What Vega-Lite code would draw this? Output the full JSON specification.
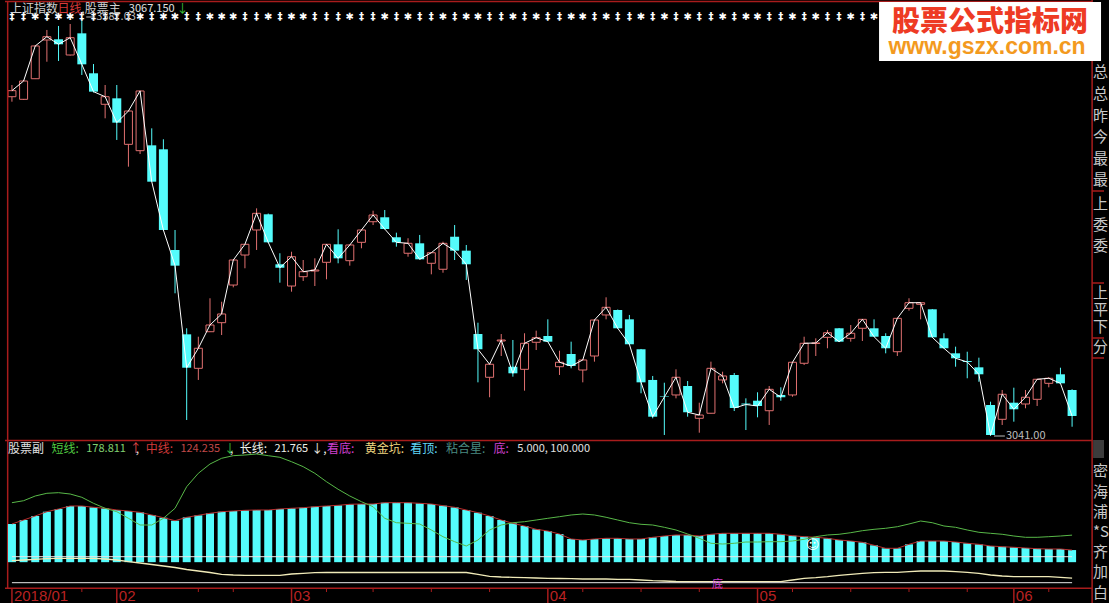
{
"$schema": "https://vega.github.io/schema/vega-lite/v6.json",
"width": 1109, "height": 603,
"autosize": {"type": "fit", "contains": "padding"},
"padding": 0,
"background": "#000000",
"config": {"view": {"stroke": null}, "axis": {"disable": true}},
"data": {"values": [{}]},
"datasets": {
"k": [
{"i":0,"o":3484.2,"h":3499.5,"l":3477.7,"c":3492.1,"s":297.3,"m":219.5,"g":85.4,"a":"‡"},
{"i":1,"o":3480.8,"h":3506.0,"l":3479.9,"c":3504.7,"s":304.6,"m":234.1,"g":87.9,"a":"‡"},
{"i":2,"o":3507.7,"h":3551.8,"l":3507.3,"c":3550.5,"s":321.8,"m":248.7,"g":90.5,"a":"✱"},
{"i":3,"o":3558.3,"h":3571.4,"l":3529.9,"c":3562.6,"s":331.7,"m":264.4,"g":92.7,"a":"‡"},
{"i":4,"o":3559.2,"h":3576.6,"l":3530.9,"c":3552.7,"s":333.9,"m":274.3,"g":94.2,"a":"✱"},
{"i":5,"o":3538.7,"h":3579.2,"l":3538.0,"c":3561.3,"s":329.1,"m":285.3,"g":94.2,"a":"✱"},
{"i":6,"o":3567.0,"h":3587.03,"l":3512.6,"c":3526.5,"s":317.0,"m":285.3,"g":94.2,"a":"‡"},
{"i":7,"o":3514.8,"h":3526.9,"l":3489.7,"c":3490.8,"s":295.1,"m":280.5,"g":94.2,"a":"‡"},
{"i":8,"o":3474.3,"h":3499.5,"l":3456.0,"c":3484.2,"s":276.9,"m":276.9,"g":91.6,"a":"‡"},
{"i":9,"o":3482.1,"h":3499.5,"l":3427.7,"c":3450.3,"s":264.4,"m":270.6,"g":87.9,"a":"‡"},
{"i":10,"o":3422.0,"h":3466.2,"l":3392.8,"c":3465.5,"s":240.3,"m":267.0,"g":81.7,"a":"‡"},
{"i":11,"o":3413.7,"h":3492.3,"l":3409.4,"c":3491.7,"s":215.8,"m":262.2,"g":77.0,"a":"✱"},
{"i":12,"o":3420.7,"h":3442.9,"l":3372.8,"c":3373.2,"s":215.8,"m":252.4,"g":71.5,"a":"‡"},
{"i":13,"o":3415.5,"h":3428.6,"l":3309.4,"c":3310.1,"s":240.3,"m":242.5,"g":66.0,"a":"✱"},
{"i":14,"o":3284.0,"h":3310.1,"l":3227.4,"c":3263.5,"s":276.9,"m":231.5,"g":60.5,"a":"✱"},
{"i":15,"o":3173.8,"h":3181.7,"l":3061.9,"c":3130.2,"s":355.8,"m":244.0,"g":53.2,"a":"‡"},
{"i":16,"o":3129.4,"h":3170.7,"l":3114.2,"c":3155.6,"s":404.7,"m":251.3,"g":47.8,"a":"‡"},
{"i":17,"o":3177.2,"h":3220.9,"l":3176.8,"c":3186.0,"s":438.7,"m":258.6,"g":42.3,"a":"✱"},
{"i":18,"o":3189.0,"h":3216.4,"l":3172.9,"c":3200.4,"s":459.6,"m":264.4,"g":35.7,"a":"✱"},
{"i":19,"o":3238.2,"h":3271.5,"l":3235.2,"c":3270.9,"s":469.1,"m":267.0,"g":33.1,"a":"✱"},
{"i":20,"o":3277.4,"h":3291.8,"l":3260.1,"c":3291.4,"s":471.6,"m":269.5,"g":32.0,"a":"‡"},
{"i":21,"o":3310.1,"h":3338.4,"l":3284.0,"c":3331.9,"s":475.3,"m":270.6,"g":32.0,"a":"‡"},
{"i":22,"o":3330.6,"h":3331.6,"l":3293.1,"c":3294.0,"s":469.1,"m":270.6,"g":32.0,"a":"✱"},
{"i":23,"o":3265.3,"h":3279.7,"l":3241.3,"c":3260.8,"s":463.2,"m":274.3,"g":32.0,"a":"‡"},
{"i":24,"o":3236.9,"h":3281.7,"l":3229.5,"c":3275.2,"s":447.1,"m":276.9,"g":36.8,"a":"✱"},
{"i":25,"o":3249.1,"h":3270.9,"l":3243.5,"c":3255.6,"s":428.9,"m":279.0,"g":39.4,"a":"✱"},
{"i":26,"o":3256.5,"h":3273.1,"l":3236.9,"c":3257.8,"s":404.7,"m":282.7,"g":41.5,"a":"‡"},
{"i":27,"o":3267.9,"h":3291.8,"l":3245.7,"c":3291.4,"s":374.0,"m":285.3,"g":42.3,"a":"‡"},
{"i":28,"o":3291.4,"h":3311.0,"l":3266.6,"c":3273.1,"s":346.3,"m":287.8,"g":42.3,"a":"‡"},
{"i":29,"o":3270.0,"h":3291.1,"l":3263.5,"c":3290.5,"s":321.8,"m":291.5,"g":42.3,"a":"✱"},
{"i":30,"o":3294.0,"h":3310.7,"l":3286.2,"c":3310.1,"s":301.0,"m":292.6,"g":42.3,"a":"‡"},
{"i":31,"o":3320.9,"h":3335.3,"l":3316.6,"c":3329.7,"s":282.7,"m":292.6,"g":42.3,"a":"‡"},
{"i":32,"o":3326.7,"h":3336.2,"l":3310.7,"c":3311.4,"s":240.3,"m":297.3,"g":42.3,"a":"✱"},
{"i":33,"o":3300.6,"h":3306.6,"l":3288.3,"c":3294.0,"s":224.2,"m":297.3,"g":42.3,"a":"‡"},
{"i":34,"o":3279.7,"h":3299.3,"l":3275.2,"c":3292.7,"s":222.0,"m":297.3,"g":42.3,"a":"✱"},
{"i":35,"o":3292.7,"h":3303.6,"l":3271.5,"c":3271.8,"s":219.5,"m":295.1,"g":42.3,"a":"‡"},
{"i":36,"o":3266.6,"h":3280.7,"l":3252.2,"c":3280.4,"s":197.6,"m":292.6,"g":42.3,"a":"‡"},
{"i":37,"o":3258.8,"h":3294.8,"l":3254.3,"c":3292.7,"s":173.1,"m":286.4,"g":42.3,"a":"✱"},
{"i":38,"o":3301.3,"h":3316.6,"l":3270.9,"c":3283.1,"s":154.8,"m":280.5,"g":42.3,"a":"‡"},
{"i":39,"o":3283.1,"h":3290.5,"l":3244.8,"c":3265.3,"s":139.1,"m":270.6,"g":42.3,"a":"✱"},
{"i":40,"o":3174.2,"h":3189.0,"l":3111.1,"c":3154.3,"s":161.0,"m":260.8,"g":35.7,"a":"✱"},
{"i":41,"o":3117.7,"h":3135.0,"l":3091.6,"c":3134.7,"s":197.6,"m":248.7,"g":28.4,"a":"‡"},
{"i":42,"o":3165.1,"h":3174.2,"l":3145.5,"c":3166.4,"s":215.8,"m":234.1,"g":25.8,"a":"‡"},
{"i":43,"o":3131.5,"h":3166.4,"l":3118.5,"c":3122.9,"s":224.2,"m":222.0,"g":24.7,"a":"✱"},
{"i":44,"o":3128.1,"h":3175.2,"l":3100.2,"c":3162.1,"s":227.9,"m":212.2,"g":23.3,"a":"‡"},
{"i":45,"o":3163.4,"h":3178.6,"l":3153.3,"c":3169.4,"s":234.1,"m":200.1,"g":22.2,"a":"✱"},
{"i":46,"o":3171.6,"h":3193.4,"l":3163.8,"c":3164.2,"s":240.3,"m":193.9,"g":21.1,"a":"‡"},
{"i":47,"o":3131.5,"h":3152.4,"l":3120.7,"c":3137.3,"s":246.2,"m":183.0,"g":20.4,"a":"‡"},
{"i":48,"o":3148.1,"h":3164.2,"l":3129.4,"c":3132.4,"s":252.4,"m":164.7,"g":19.6,"a":"✱"},
{"i":49,"o":3127.2,"h":3140.9,"l":3111.1,"c":3140.3,"s":256.0,"m":161.0,"g":18.5,"a":"✱"},
{"i":50,"o":3145.5,"h":3193.2,"l":3138.1,"c":3192.5,"s":252.4,"m":164.7,"g":18.5,"a":"‡"},
{"i":51,"o":3199.1,"h":3222.2,"l":3193.4,"c":3209.1,"s":244.0,"m":167.2,"g":18.5,"a":"✱"},
{"i":52,"o":3205.6,"h":3206.2,"l":3180.8,"c":3181.7,"s":234.1,"m":167.2,"g":17.4,"a":"‡"},
{"i":53,"o":3193.4,"h":3199.1,"l":3159.9,"c":3160.8,"s":224.2,"m":164.7,"g":17.4,"a":"‡"},
{"i":54,"o":3154.3,"h":3154.7,"l":3096.8,"c":3111.1,"s":218.4,"m":164.7,"g":14.9,"a":"✱"},
{"i":55,"o":3114.2,"h":3119.4,"l":3064.1,"c":3066.2,"s":215.8,"m":170.9,"g":12.3,"a":"‡"},
{"i":56,"o":3092.6,"h":3110.6,"l":3042.3,"c":3091.9,"s":207.4,"m":175.6,"g":11.2,"a":"✱"},
{"i":57,"o":3094.6,"h":3128.1,"l":3090.2,"c":3117.7,"s":197.6,"m":179.3,"g":9.4,"a":"‡"},
{"i":58,"o":3106.3,"h":3112.8,"l":3066.2,"c":3072.0,"s":183.0,"m":179.3,"g":8.7,"a":"✱"},
{"i":59,"o":3064.1,"h":3084.5,"l":3045.3,"c":3068.4,"s":167.2,"m":175.6,"g":8.7,"a":"‡"},
{"i":60,"o":3070.7,"h":3138.1,"l":3070.4,"c":3129.4,"s":149.0,"m":181.9,"g":8.7,"a":"‡"},
{"i":61,"o":3114.2,"h":3125.0,"l":3109.8,"c":3119.4,"s":146.4,"m":185.5,"g":8.7,"a":"✱"},
{"i":62,"o":3120.7,"h":3123.3,"l":3073.6,"c":3077.6,"s":149.0,"m":185.5,"g":8.7,"a":"‡"},
{"i":63,"o":3083.4,"h":3090.2,"l":3048.8,"c":3082.1,"s":153.7,"m":185.5,"g":8.7,"a":"✱"},
{"i":64,"o":3087.1,"h":3098.1,"l":3065.4,"c":3080.2,"s":153.7,"m":185.5,"g":8.7,"a":"✱"},
{"i":65,"o":3074.0,"h":3106.3,"l":3055.4,"c":3102.0,"s":154.8,"m":185.5,"g":8.7,"a":"‡"},
{"i":66,"o":3094.6,"h":3104.6,"l":3087.1,"c":3091.6,"s":154.8,"m":181.9,"g":8.7,"a":"‡"},
{"i":67,"o":3094.6,"h":3137.6,"l":3092.3,"c":3137.3,"s":157.4,"m":176.7,"g":14.9,"a":"✱"},
{"i":68,"o":3136.0,"h":3170.7,"l":3133.7,"c":3162.1,"s":163.6,"m":173.1,"g":21.1,"a":"‡"},
{"i":69,"o":3161.8,"h":3168.6,"l":3145.5,"c":3162.5,"s":173.1,"m":170.9,"g":23.3,"a":"✱"},
{"i":70,"o":3169.9,"h":3179.5,"l":3155.6,"c":3175.9,"s":179.3,"m":167.2,"g":26.9,"a":"‡"},
{"i":71,"o":3181.7,"h":3182.1,"l":3163.8,"c":3164.2,"s":181.9,"m":161.0,"g":32.0,"a":"‡"},
{"i":72,"o":3168.6,"h":3186.0,"l":3164.2,"c":3175.2,"s":187.7,"m":157.4,"g":35.7,"a":"✱"},
{"i":73,"o":3181.7,"h":3193.8,"l":3165.1,"c":3193.4,"s":195.0,"m":152.6,"g":39.4,"a":"‡"},
{"i":74,"o":3181.7,"h":3193.4,"l":3170.3,"c":3170.7,"s":200.1,"m":141.7,"g":41.5,"a":"✱"},
{"i":75,"o":3171.6,"h":3175.2,"l":3149.0,"c":3155.6,"s":203.8,"m":130.7,"g":43.0,"a":"‡"},
{"i":76,"o":3151.1,"h":3195.1,"l":3145.5,"c":3194.7,"s":209.6,"m":130.7,"g":43.0,"a":"‡"},
{"i":77,"o":3207.8,"h":3220.9,"l":3204.7,"c":3215.1,"s":219.5,"m":145.3,"g":45.2,"a":"✱"},
{"i":78,"o":3213.0,"h":3215.4,"l":3193.4,"c":3215.1,"s":230.4,"m":157.4,"g":47.8,"a":"‡"},
{"i":79,"o":3206.5,"h":3206.9,"l":3169.6,"c":3169.9,"s":224.2,"m":157.4,"g":47.8,"a":"✱"},
{"i":80,"o":3168.6,"h":3175.2,"l":3155.3,"c":3155.6,"s":212.2,"m":157.4,"g":47.8,"a":"‡"},
{"i":81,"o":3149.0,"h":3157.7,"l":3131.5,"c":3142.5,"s":207.4,"m":153.7,"g":45.2,"a":"✱"},
{"i":82,"o":3139.0,"h":3151.1,"l":3116.4,"c":3137.7,"s":197.6,"m":149.0,"g":43.0,"a":"‡"},
{"i":83,"o":3130.7,"h":3143.3,"l":3111.9,"c":3121.6,"s":189.2,"m":145.3,"g":39.4,"a":"‡"},
{"i":84,"o":3081.5,"h":3085.8,"l":3041.0,"c":3042.3,"s":185.5,"m":139.1,"g":33.1,"a":"✱"},
{"i":85,"o":3062.8,"h":3101.1,"l":3055.4,"c":3095.5,"s":181.9,"m":136.5,"g":29.5,"a":"‡"},
{"i":86,"o":3084.5,"h":3104.1,"l":3059.7,"c":3075.9,"s":175.6,"m":134.4,"g":26.9,"a":"✱"},
{"i":87,"o":3082.8,"h":3101.1,"l":3077.2,"c":3091.6,"s":170.9,"m":131.8,"g":26.9,"a":"‡"},
{"i":88,"o":3088.9,"h":3115.5,"l":3080.2,"c":3115.1,"s":170.9,"m":129.2,"g":26.9,"a":"✱"},
{"i":89,"o":3109.8,"h":3117.7,"l":3104.6,"c":3116.4,"s":173.1,"m":128.1,"g":26.9,"a":"‡"},
{"i":90,"o":3121.6,"h":3130.2,"l":3109.5,"c":3109.8,"s":175.6,"m":128.1,"g":24.7,"a":"‡"},
{"i":91,"o":3101.1,"h":3102.0,"l":3053.1,"c":3067.15,"s":178.811,"m":124.235,"g":21.765,"a":"✱"}
],
"mo": [{"i":0,"lab":"2018/01"},{"i":9,"lab":"02"},{"i":24,"lab":"03"},{"i":46,"lab":"04"},{"i":64,"lab":"05"},{"i":86,"lab":"06"}],
"wk": [{"i":6},{"i":16},{"i":19},{"i":27},{"i":31},{"i":36},{"i":41},{"i":49},{"i":54},{"i":59},{"i":67},{"i":72},{"i":77},{"i":82},{"i":89}]
},
"layer": [
{"layer": [
 {"data":{"name":"k"},"transform":[{"filter":"datum.c>=datum.o"}],"mark":{"type":"rule","color":"#e07070","strokeWidth":1,"clip":true},"encoding":{"x":{"field":"i","type":"quantitative","scale":{"domain":[-0.5954,93.739],"nice":false}},"y":{"field":"h","type":"quantitative","scale":{"domain":[2822.84,3610.54],"nice":false}},"y2":{"field":"l"}}},
 {"data":{"name":"k"},"transform":[{"filter":"datum.c<datum.o"}],"mark":{"type":"rule","color":"#54fcfc","strokeWidth":1,"clip":true},"encoding":{"x":{"field":"i","type":"quantitative","scale":{"domain":[-0.5954,93.739],"nice":false}},"y":{"field":"h","type":"quantitative","scale":{"domain":[2822.84,3610.54],"nice":false}},"y2":{"field":"l"}}},
 {"data":{"name":"k"},"transform":[{"filter":"datum.c<datum.o"}],"mark":{"type":"bar","color":"#54fcfc","size":9,"clip":true},"encoding":{"x":{"field":"i","type":"quantitative","scale":{"domain":[-0.5954,93.739],"nice":false}},"y":{"field":"o","type":"quantitative","scale":{"domain":[2822.84,3610.54],"nice":false}},"y2":{"field":"c"}}},
 {"data":{"name":"k"},"transform":[{"filter":"datum.c>=datum.o"}],"mark":{"type":"bar","fill":"#000000","stroke":"#e07070","strokeWidth":1,"size":8,"clip":true},"encoding":{"x":{"field":"i","type":"quantitative","scale":{"domain":[-0.5954,93.739],"nice":false}},"y":{"field":"o","type":"quantitative","scale":{"domain":[2822.84,3610.54],"nice":false}},"y2":{"field":"c"}}},
 {"data":{"name":"k"},"mark":{"type":"line","color":"#ffffff","strokeWidth":1,"clip":true},"encoding":{"x":{"field":"i","type":"quantitative","scale":{"domain":[-0.5954,93.739],"nice":false}},"y":{"field":"c","type":"quantitative","scale":{"domain":[2822.84,3610.54],"nice":false}}}},
 {"data":{"name":"k"},"mark":{"type":"text","color":"#ffffff","font":"DejaVu Sans","fontSize":10,"fontWeight":"bold","align":"center","baseline":"middle","clip":true},"encoding":{"x":{"field":"i","type":"quantitative","scale":{"domain":[-0.5954,93.739],"nice":false}},"y":{"datum":3588.3,"type":"quantitative","scale":{"domain":[2822.84,3610.54],"nice":false}},"text":{"field":"a"}}},
 {"mark":{"type":"rule","color":"#bdbdbd","clip":true},"encoding":{"x":{"datum":6.38,"type":"quantitative"},"x2":{"datum":7.145},"y":{"datum":3588.33,"type":"quantitative"}}},
 {"mark":{"type":"text","text":"3587.03","color":"#bdbdbd","font":"Noto Sans CJK SC","fontSize":11,"align":"left","baseline":"middle","clip":true},"encoding":{"x":{"datum":7.23,"type":"quantitative"},"y":{"datum":3588.33,"type":"quantitative"}}},
 {"mark":{"type":"rule","color":"#bdbdbd","clip":true},"encoding":{"x":{"datum":84.297,"type":"quantitative"},"x2":{"datum":85.233},"y":{"datum":3040.99,"type":"quantitative"}}},
 {"mark":{"type":"text","text":"3041.00","color":"#bdbdbd","font":"Noto Sans CJK SC","fontSize":11,"align":"left","baseline":"middle","clip":true},"encoding":{"x":{"datum":85.318,"type":"quantitative"},"y":{"datum":3040.99,"type":"quantitative"}}},
 {"mark":{"type":"rule","color":"#a81c1c","strokeWidth":1.5,"clip":true},"encoding":{"x":{"datum":-0.5954,"type":"quantitative"},"x2":{"datum":92.719},"y":{"datum":3608.58,"type":"quantitative"}}},
 {"mark":{"type":"rule","color":"#a81c1c","strokeWidth":1.5,"clip":true},"encoding":{"x":{"datum":-0.5954,"type":"quantitative"},"x2":{"datum":92.719},"y":{"datum":3035.11,"type":"quantitative"}}},
 {"mark":{"type":"rule","color":"#a81c1c","strokeWidth":1.5,"clip":true},"encoding":{"x":{"datum":-0.5954,"type":"quantitative"},"x2":{"datum":92.719},"y":{"datum":2842.04,"type":"quantitative"}}},
 {"mark":{"type":"rule","color":"#a81c1c","strokeWidth":1.5,"clip":true},"encoding":{"x":{"datum":-0.366,"type":"quantitative"},"y":{"datum":3608.58,"type":"quantitative"},"y2":{"datum":2842.04}}},
 {"mark":{"type":"rule","color":"#a81c1c","strokeWidth":1.5,"clip":true},"encoding":{"x":{"datum":92.719,"type":"quantitative"},"y":{"datum":3610.54,"type":"quantitative"},"y2":{"datum":2822.84}}},
 {"mark":{"type":"rule","color":"#a81c1c","strokeWidth":1.5,"clip":true},"encoding":{"x":{"datum":92.719,"type":"quantitative"},"x2":{"datum":93.739},"y":{"datum":3361.04,"type":"quantitative"}}},
 {"mark":{"type":"rule","color":"#a81c1c","strokeWidth":1.5,"clip":true},"encoding":{"x":{"datum":92.719,"type":"quantitative"},"x2":{"datum":93.739},"y":{"datum":3240.86,"type":"quantitative"}}},
 {"mark":{"type":"rule","color":"#a81c1c","strokeWidth":1.5,"clip":true},"encoding":{"x":{"datum":92.719,"type":"quantitative"},"x2":{"datum":93.739},"y":{"datum":3169.01,"type":"quantitative"}}},
 {"mark":{"type":"rule","color":"#a81c1c","strokeWidth":1.5,"clip":true},"encoding":{"x":{"datum":92.719,"type":"quantitative"},"x2":{"datum":93.739},"y":{"datum":3142.89,"type":"quantitative"}}},
 {"mark":{"type":"text","text":["总","总","昨","今","最","最"],"lineHeight":21.6,"color":"#c8c8c8","font":"Noto Sans CJK SC","fontSize":15,"align":"left","baseline":"top","clip":true},"encoding":{"x":{"datum":92.804,"type":"quantitative"},"y":{"datum":3524.98,"type":"quantitative"}}},
 {"mark":{"type":"text","text":["上","委","委"],"lineHeight":21,"color":"#c8c8c8","font":"Noto Sans CJK SC","fontSize":15,"align":"left","baseline":"top","clip":true},"encoding":{"x":{"datum":92.804,"type":"quantitative"},"y":{"datum":3353.85,"type":"quantitative"}}},
 {"mark":{"type":"text","text":["上","平","下"],"lineHeight":17,"color":"#c8c8c8","font":"Noto Sans CJK SC","fontSize":15,"align":"left","baseline":"top","clip":true},"encoding":{"x":{"datum":92.804,"type":"quantitative"},"y":{"datum":3237.59,"type":"quantitative"}}},
 {"mark":{"type":"text","text":"分","color":"#c8c8c8","font":"Noto Sans CJK SC","fontSize":15,"align":"left","baseline":"top","clip":true},"encoding":{"x":{"datum":92.804,"type":"quantitative"},"y":{"datum":3167.05,"type":"quantitative"}}},
 {"mark":{"type":"text","text":"上证指数","color":"#d0d0d0","font":"Noto Sans CJK SC","fontSize":12,"align":"left","baseline":"middle","clip":true},"encoding":{"x":{"datum":-0.17,"type":"quantitative"},"y":{"datum":3598.78,"type":"quantitative"}}},
 {"mark":{"type":"text","text":"日线","color":"#d83a3a","font":"Noto Sans CJK SC","fontSize":12,"align":"left","baseline":"middle","clip":true},"encoding":{"x":{"datum":3.913,"type":"quantitative"},"y":{"datum":3598.78,"type":"quantitative"}}},
 {"mark":{"type":"text","text":",股票主","color":"#d0d0d0","font":"Noto Sans CJK SC","fontSize":12,"align":"left","baseline":"middle","clip":true},"encoding":{"x":{"datum":5.954,"type":"quantitative"},"y":{"datum":3598.78,"type":"quantitative"}}},
 {"mark":{"type":"text","text":"3067.150","color":"#e0e0e0","font":"Noto Sans CJK SC","fontSize":11,"align":"left","baseline":"middle","clip":true},"encoding":{"x":{"datum":10.037,"type":"quantitative"},"y":{"datum":3598.78,"type":"quantitative"}}},
 {"mark":{"type":"text","text":"↓","color":"#3cc03c","font":"Noto Sans CJK SC","fontSize":12,"align":"left","baseline":"middle","clip":true},"encoding":{"x":{"datum":14.121,"type":"quantitative"},"y":{"datum":3598.78,"type":"quantitative"}}},
 {"mark":{"type":"rect","color":"#ffffff","clip":true},"encoding":{"x":{"datum":74.43,"type":"quantitative"},"x2":{"datum":93.484},"y":{"datum":3607.93,"type":"quantitative"},"y2":{"datum":3530.85}}},
 {"mark":{"type":"text","text":"股票公式指标网","color":"#ee3b24","font":"Noto Sans CJK SC","fontSize":28,"fontWeight":900,"align":"center","baseline":"middle","clip":true},"encoding":{"x":{"datum":83.957,"type":"quantitative"},"y":{"datum":3580.5,"type":"quantitative"}}},
 {"mark":{"type":"text","text":"www.gszx.com.cn","color":"#f39a1e","font":"Liberation Sans","fontSize":23,"fontWeight":"bold","align":"center","baseline":"middle","clip":true},"encoding":{"x":{"datum":83.7,"type":"quantitative"},"y":{"datum":3549.14,"type":"quantitative"}}}
]},
{"layer": [
 {"data":{"name":"k"},"mark":{"type":"bar","color":"#54fcfc","size":8,"clip":true},"encoding":{"x":{"field":"i","type":"quantitative","scale":{"domain":[-0.5954,93.739],"nice":false}},"y":{"field":"m","type":"quantitative","scale":{"domain":[-69.17,2134.1],"nice":false}},"y2":{"datum":80}}},
 {"mark":{"type":"rule","color":"#e8e8e8","strokeWidth":1,"clip":true},"encoding":{"x":{"datum":0,"type":"quantitative"},"x2":{"datum":91},"y":{"datum":100,"type":"quantitative","scale":{"domain":[-69.17,2134.1],"nice":false}}}},
 {"data":{"name":"k"},"mark":{"type":"line","color":"#b83030","strokeWidth":1,"clip":true},"encoding":{"x":{"field":"i","type":"quantitative"},"y":{"field":"m","type":"quantitative"}}},
 {"data":{"name":"k"},"mark":{"type":"line","color":"#58b848","strokeWidth":1,"clip":true},"encoding":{"x":{"field":"i","type":"quantitative"},"y":{"field":"s","type":"quantitative"}}},
 {"data":{"name":"k"},"mark":{"type":"line","color":"#f0eab8","strokeWidth":1.3,"clip":true},"encoding":{"x":{"field":"i","type":"quantitative"},"y":{"field":"g","type":"quantitative"}}},
 {"mark":{"type":"rule","color":"#e8e8e8","strokeWidth":1,"clip":true},"encoding":{"x":{"datum":0,"type":"quantitative"},"x2":{"datum":91},"y":{"datum":5,"type":"quantitative"}}},
 {"mark":{"type":"text","text":"底","color":"#d040d0","font":"Noto Sans CJK SC","fontSize":11,"align":"center","baseline":"top","clip":true},"encoding":{"x":{"datum":60.565,"type":"quantitative"},"y":{"datum":18.5,"type":"quantitative"}}},
 {"mark":{"type":"text","text":"☺","color":"#ffffff","font":"DejaVu Sans","fontSize":13,"fontWeight":"bold","align":"center","baseline":"middle","clip":true},"encoding":{"x":{"datum":68.731,"type":"quantitative"},"y":{"datum":142.8,"type":"quantitative"}}},
 {"data":{"name":"mo"},"mark":{"type":"rule","color":"#a81c1c","strokeWidth":1.5,"clip":true},"encoding":{"x":{"field":"i","type":"quantitative"},"y":{"datum":-15.5,"type":"quantitative"},"y2":{"datum":-69.17}}},
 {"data":{"name":"mo"},"mark":{"type":"text","color":"#b82222","font":"Liberation Sans Narrow, Liberation Sans","fontSize":15,"align":"left","baseline":"middle","dx":2,"clip":true},"encoding":{"x":{"field":"i","type":"quantitative"},"y":{"datum":-43.6,"type":"quantitative"},"text":{"field":"lab"}}},
 {"data":{"name":"wk"},"mark":{"type":"rule","color":"#a81c1c","strokeWidth":1,"clip":true},"encoding":{"x":{"field":"i","type":"quantitative"},"y":{"datum":-15.5,"type":"quantitative"},"y2":{"datum":-29.0}}},
 {"mark":{"type":"rect","color":"#3c3c3c","clip":true},"encoding":{"x":{"datum":92.804,"type":"quantitative"},"x2":{"datum":93.739},"y":{"datum":526.4,"type":"quantitative"},"y2":{"datum":460.7}}},
 {"mark":{"type":"text","text":["密","海","浦","*S","齐","加","白"],"lineHeight":20.2,"color":"#c8c8c8","font":"Noto Sans CJK SC","fontSize":15,"align":"left","baseline":"top","clip":true},"encoding":{"x":{"datum":92.804,"type":"quantitative"},"y":{"datum":436.9,"type":"quantitative"}}},
 {"mark":{"type":"text","text":"股票副","color":"#e0e0e0","font":"Noto Sans CJK SC","fontSize":12,"align":"left","baseline":"middle","clip":true},"encoding":{"x":{"datum":-0.34,"type":"quantitative"},"y":{"datum":494.5,"type":"quantitative"}}},
 {"mark":{"type":"text","text":"短线:","color":"#50c840","font":"Noto Sans CJK SC","fontSize":12,"align":"left","baseline":"middle","clip":true},"encoding":{"x":{"datum":3.403,"type":"quantitative"},"y":{"datum":494.5,"type":"quantitative"}}},
 {"mark":{"type":"text","text":"178.811","color":"#80d070","font":"Noto Sans CJK SC","fontSize":11,"align":"left","baseline":"middle","clip":true},"encoding":{"x":{"datum":6.38,"type":"quantitative"},"y":{"datum":494.5,"type":"quantitative"}}},
 {"mark":{"type":"text","text":"↑","color":"#e04848","font":"Noto Sans CJK SC","fontSize":12,"align":"left","baseline":"middle","clip":true},"encoding":{"x":{"datum":10.123,"type":"quantitative"},"y":{"datum":494.5,"type":"quantitative"}}},
 {"mark":{"type":"text","text":",","color":"#e0e0e0","font":"Noto Sans CJK SC","fontSize":12,"align":"left","baseline":"middle","clip":true},"encoding":{"x":{"datum":10.633,"type":"quantitative"},"y":{"datum":494.5,"type":"quantitative"}}},
 {"mark":{"type":"text","text":"中线:","color":"#d03a3a","font":"Noto Sans CJK SC","fontSize":12,"align":"left","baseline":"middle","clip":true},"encoding":{"x":{"datum":11.484,"type":"quantitative"},"y":{"datum":494.5,"type":"quantitative"}}},
 {"mark":{"type":"text","text":"124.235","color":"#c04848","font":"Noto Sans CJK SC","fontSize":11,"align":"left","baseline":"middle","clip":true},"encoding":{"x":{"datum":14.461,"type":"quantitative"},"y":{"datum":494.5,"type":"quantitative"}}},
 {"mark":{"type":"text","text":"↓","color":"#3cc03c","font":"Noto Sans CJK SC","fontSize":12,"align":"left","baseline":"middle","clip":true},"encoding":{"x":{"datum":18.204,"type":"quantitative"},"y":{"datum":494.5,"type":"quantitative"}}},
 {"mark":{"type":"text","text":",","color":"#e0e0e0","font":"Noto Sans CJK SC","fontSize":12,"align":"left","baseline":"middle","clip":true},"encoding":{"x":{"datum":18.714,"type":"quantitative"},"y":{"datum":494.5,"type":"quantitative"}}},
 {"mark":{"type":"text","text":"长线:","color":"#f0f0e8","font":"Noto Sans CJK SC","fontSize":12,"align":"left","baseline":"middle","clip":true},"encoding":{"x":{"datum":19.565,"type":"quantitative"},"y":{"datum":494.5,"type":"quantitative"}}},
 {"mark":{"type":"text","text":"21.765","color":"#f0f0e8","font":"Noto Sans CJK SC","fontSize":11,"align":"left","baseline":"middle","clip":true},"encoding":{"x":{"datum":22.542,"type":"quantitative"},"y":{"datum":494.5,"type":"quantitative"}}},
 {"mark":{"type":"text","text":"↓,","color":"#f0f0e8","font":"Noto Sans CJK SC","fontSize":12,"align":"left","baseline":"middle","clip":true},"encoding":{"x":{"datum":25.689,"type":"quantitative"},"y":{"datum":494.5,"type":"quantitative"}}},
 {"mark":{"type":"text","text":"看底:","color":"#d040d0","font":"Noto Sans CJK SC","fontSize":12,"align":"left","baseline":"middle","clip":true},"encoding":{"x":{"datum":27.05,"type":"quantitative"},"y":{"datum":494.5,"type":"quantitative"}}},
 {"mark":{"type":"text","text":"黄金坑:","color":"#f0d880","font":"Noto Sans CJK SC","fontSize":12,"align":"left","baseline":"middle","clip":true},"encoding":{"x":{"datum":30.283,"type":"quantitative"},"y":{"datum":494.5,"type":"quantitative"}}},
 {"mark":{"type":"text","text":"看顶:","color":"#60d8f8","font":"Noto Sans CJK SC","fontSize":12,"align":"left","baseline":"middle","clip":true},"encoding":{"x":{"datum":34.196,"type":"quantitative"},"y":{"datum":494.5,"type":"quantitative"}}},
 {"mark":{"type":"text","text":"粘合星:","color":"#4a8a80","font":"Noto Sans CJK SC","fontSize":12,"align":"left","baseline":"middle","clip":true},"encoding":{"x":{"datum":37.258,"type":"quantitative"},"y":{"datum":494.5,"type":"quantitative"}}},
 {"mark":{"type":"text","text":"底:","color":"#d040d0","font":"Noto Sans CJK SC","fontSize":12,"align":"left","baseline":"middle","clip":true},"encoding":{"x":{"datum":41.341,"type":"quantitative"},"y":{"datum":494.5,"type":"quantitative"}}},
 {"mark":{"type":"text","text":"5.000, 100.000","color":"#e0e0e0","font":"Noto Sans CJK SC","fontSize":11,"align":"left","baseline":"middle","clip":true},"encoding":{"x":{"datum":43.382,"type":"quantitative"},"y":{"datum":494.5,"type":"quantitative"}}}
]}
],
"resolve": {"scale": {"y": "independent"}}
}
